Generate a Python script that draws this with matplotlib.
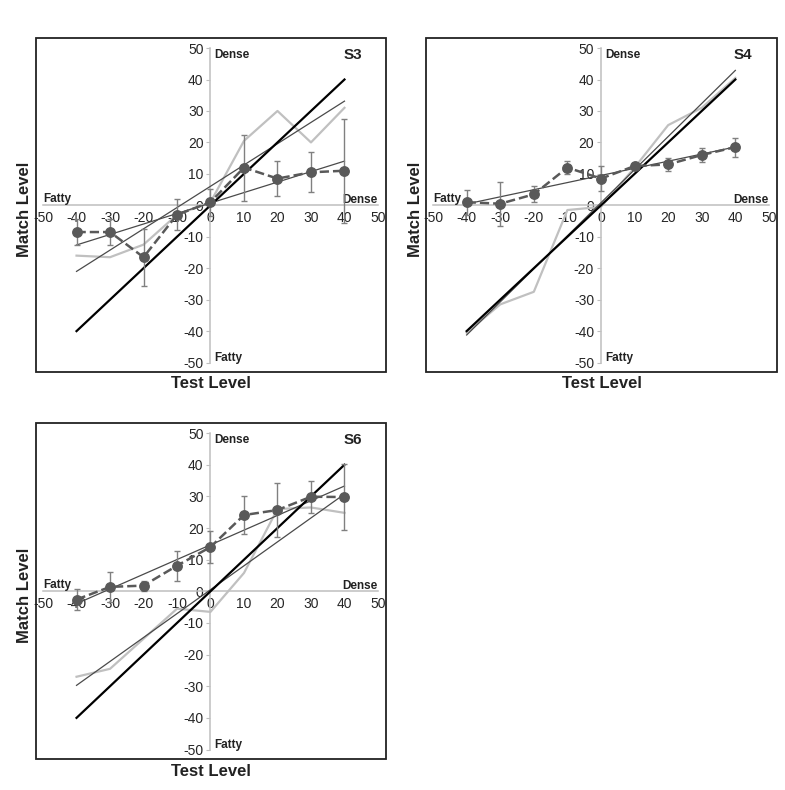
import numpy as np
import matplotlib
matplotlib.use("Agg")
import matplotlib.pyplot as plt
from matplotlib.patches import Rectangle

plt.rcParams["font.family"] = ["Liberation Sans", "DejaVu Sans"]
plt.rcParams["axes.unicode_minus"] = False

test_levels = [-40, -30, -20, -10, 0, 10, 20, 30, 40]
axis_ticks = [-50, -40, -30, -20, -10, 0, 10, 20, 30, 40, 50]

# S3
s3_mean = [-8.5, -8.5, -16.5, -3, 1, 12, 8.5, 10.5, 11]
s3_err = [4, 4, 9, 5, 4.3, 10.5, 5.5, 6.3, 16.5]
s3_gray = [-16, -16.5, -12.5, -3, 1, 20.5, 30, 20, 31]

# S4
s4_mean = [1, 0.5, 3.5, 12, 8.5, 12.5, 13, 16, 18.5]
s4_err = [4, 7, 2.5, 2, 4, 1, 2, 2.3, 3]
s4_gray = [-40.5, -31.5, -27.5, -1.5, -0.5, 12, 25.5, 31, 40.5]

# S6
s6_mean = [-2.6, 1.4, 1.8, 8.1, 14, 24.1, 25.7, 29.9, 29.8]
s6_err = [3.3, 4.7, 1.6, 4.7, 5, 6, 8.4, 5, 10.4]
s6_gray = [-27, -24.5, -15, -5.5, -6.5, 5.8, 26, 26.5, 24.8]

W, H = 785, 790
fig = plt.figure(figsize=(W / 100, H / 100), dpi=100)


def draw_panel(box, name, mean, err, gray):
    x0, y0, x1, y1 = box  # pixel frame
    ax = fig.add_axes([x0 / W, 1 - y1 / H, (x1 - x0) / W, (y1 - y0) / H])
    ax.set_xlim(-52.1, 52.4)
    ax.set_ylim(-53.0, 53.2)

    for side in ["top", "right"]:
        ax.spines[side].set_visible(False)
    for side in ["left", "bottom"]:
        ax.spines[side].set_position(("data", 0))
        ax.spines[side].set_bounds(-50, 50)
        ax.spines[side].set_color("#bfbfbf")
        ax.spines[side].set_linewidth(1.1)
    ax.add_patch(Rectangle((0, 0), 1, 1, transform=ax.transAxes, fill=False,
                           ec="#222222", lw=1.3, clip_on=False, zorder=10))

    ax.set_xticks(axis_ticks)
    ax.set_yticks(axis_ticks)
    ax.tick_params(axis="y", direction="out", length=3, color="#bfbfbf",
                   labelsize=10, pad=2, labelcolor="#262626")
    ax.tick_params(axis="x", length=0, labelsize=10, pad=4, labelcolor="#262626")

    x = np.array(test_levels)
    ends = np.array([x[0], x[-1]])
    ax.plot(x, gray, color="#c0c0c0", lw=1.6, zorder=2)
    for series in (mean, gray):
        fit = np.polyfit(x, series, 1)
        ax.plot(ends, np.polyval(fit, ends), color="#4a4a4a", lw=0.9, zorder=3)
    ax.plot(ends, ends, color="black", lw=1.6, zorder=4)
    ax.errorbar(x, mean, yerr=err, fmt="none", ecolor="#808080",
                elinewidth=1.0, capsize=2.5, capthick=1.0, zorder=5)
    ax.plot(x, mean, "--", color="#595959", lw=1.8, marker="o", ms=6.8, zorder=6)

    bold = dict(fontsize=8.5, fontweight="bold", color="#222222")
    ax.text(1.2, 47.8, "Dense", ha="left", va="center", **bold)
    ax.text(1.2, -48.6, "Fatty", ha="left", va="center", **bold)
    ax.text(-50, 2.0, "Fatty", ha="left", va="center", **bold)
    ax.text(50, 1.7, "Dense", ha="right", va="center", **bold)
    ax.text(42.4, 47.8, name, ha="center", va="center", fontsize=11,
            fontweight="bold", color="#222222")

    cx = (x0 + x1) / 2
    fig.text(cx / W, 1 - (y1 + 12) / H, "Test Level", ha="center", va="center",
             fontsize=12, fontweight="bold", color="#222222")
    fig.text((x0 - 11) / W, 1 - ((y0 + y1) / 2 + 4) / H, "Match Level",
             ha="center", va="center", rotation=90, fontsize=12,
             fontweight="bold", color="#222222")
    return ax


draw_panel([36, 38, 386, 372], "S3", s3_mean, s3_err, s3_gray)
draw_panel([426, 38, 777, 372], "S4", s4_mean, s4_err, s4_gray)
draw_panel([36, 423, 386, 759], "S6", s6_mean, s6_err, s6_gray)

fig.savefig("out.png", dpi=100)
